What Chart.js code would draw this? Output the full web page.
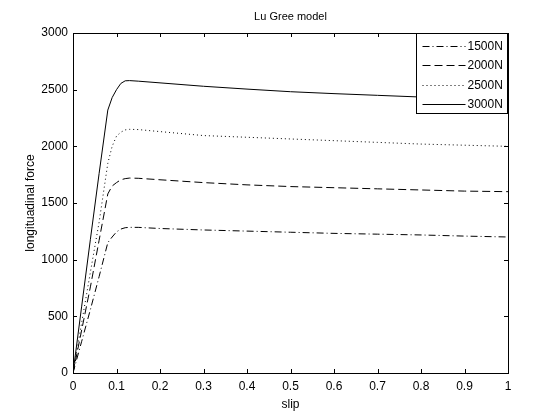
<!DOCTYPE html>
<html><head><meta charset="utf-8">
<script src="https://cdn.jsdelivr.net/npm/chart.js@4/dist/chart.umd.min.js"></script>
<style>html,body{margin:0;padding:0;background:#fff}#wrap{width:560px;height:420px}</style>
</head><body><div id="wrap"><canvas id="c" width="560" height="420"></canvas></div>
<script>
const slip = [0,0.02,0.04,0.06,0.08,0.09,0.1,0.11,0.12,0.13,0.15,0.2,0.3,0.4,0.5,0.6,0.7,0.8,0.9,1.0];
const f1500 = [0,280,560,850,1150,1200,1245,1270,1282,1285,1285,1275,1262,1252,1242,1232,1225,1218,1208,1200];
const f2000 = [0,380,760,1170,1580,1650,1680,1705,1715,1720,1718,1705,1680,1660,1645,1635,1625,1615,1605,1600];
const f2500 = [0,445,890,1330,1850,2000,2090,2125,2145,2150,2148,2130,2095,2080,2065,2050,2035,2020,2010,2000];
const f3000 = [0,590,1180,1760,2320,2430,2500,2555,2578,2580,2575,2560,2530,2505,2482,2465,2450,2435,2418,2400];
const seriesNames = ['1500N','2000N','2500N','3000N'];
const xTicks = [0,0.1,0.2,0.3,0.4,0.5,0.6,0.7,0.8,0.9,1];
const yTicks = [0,500,1000,1500,2000,2500,3000];
const titleText = 'Lu Gree model';
const xTitle = 'slip';
const yTitle = 'longituadinal force';

const FONT = '"Liberation Sans", Arial, sans-serif';
const dashes = [[7,3,1,3],[8,4],[1,3],[]];
const all = [f1500,f2000,f2500,f3000];
const datasets = all.map((arr,i)=>({
  label: seriesNames[i],
  data: slip.map((s,j)=>({x:s,y:arr[j]})),
  borderColor:'#000', borderWidth:1, borderDash:dashes[i],
  pointRadius:0, tension:0, fill:false
}));

const framePlugin = {
  id:'frame',
  afterDraw(chart){
    const ctx = chart.ctx, a = chart.chartArea;
    const xs = chart.scales.x, ys = chart.scales.y;
    ctx.save();
    ctx.strokeStyle='#000'; ctx.lineWidth=1;
    ctx.strokeRect(Math.round(a.left)+0.5, Math.round(a.top)+0.5, Math.round(a.right-a.left), Math.round(a.bottom-a.top));
    ctx.beginPath();
    const tl = 4;
    xTicks.forEach(v=>{
      const px = Math.round(xs.getPixelForValue(v))+0.5;
      ctx.moveTo(px,a.bottom); ctx.lineTo(px,a.bottom-tl);
      ctx.moveTo(px,a.top); ctx.lineTo(px,a.top+tl);
    });
    yTicks.forEach(v=>{
      const py = Math.round(ys.getPixelForValue(v))+0.5;
      ctx.moveTo(a.left,py); ctx.lineTo(a.left+tl,py);
      ctx.moveTo(a.right,py); ctx.lineTo(a.right-tl,py);
    });
    ctx.stroke();
    // title
    ctx.fillStyle='#000'; ctx.font='11px '+FONT; ctx.textAlign='center'; ctx.textBaseline='middle';
    ctx.fillText(titleText,(a.left+a.right)/2,17);
    // legend
    const bw=91, bh=80, bx=Math.round(a.right)-92+0.5, by=Math.round(a.top)+0.5;
    ctx.fillStyle='#fff'; ctx.fillRect(bx,by,bw,bh);
    ctx.strokeRect(bx,by,bw,bh);
    ctx.font='12px '+FONT; ctx.textAlign='left';
    chart.data.datasets.forEach((d,i)=>{
      const y = Math.round(by+12.5+i*19.4);
      ctx.save(); ctx.setLineDash(d.borderDash); ctx.beginPath();
      ctx.moveTo(bx+6,y+0.5); ctx.lineTo(bx+49,y+0.5); ctx.stroke(); ctx.restore();
      ctx.fillStyle='#000'; ctx.fillText(d.label,bx+51,y+1);
    });
    ctx.restore();
  }
};

new Chart(document.getElementById('c'),{
  type:'line',
  data:{datasets},
  options:{
    responsive:false, animation:false, devicePixelRatio:1,
    layout:{padding:{left:0,right:52,top:33,bottom:0}},
    plugins:{legend:{display:false},title:{display:false},tooltip:{enabled:false}},
    scales:{
      x:{type:'linear',min:0,max:1,
        afterBuildTicks(s){s.ticks=xTicks.map(v=>({value:v}));},
        afterFit(s){s.height=47;},
        grid:{display:false,drawTicks:false},border:{display:false},
        ticks:{color:'#000',font:{family:FONT,size:12},padding:6,maxRotation:0,autoSkip:false,callback:v=>String(v)},
        title:{display:true,text:xTitle,color:'#000',font:{family:FONT,size:12},padding:{top:2,bottom:8}}
      },
      y:{type:'linear',min:0,max:3000,
        afterBuildTicks(s){s.ticks=yTicks.map(v=>({value:v}));},
        afterFit(s){s.width=73;},
        grid:{display:false,drawTicks:false},border:{display:false},
        ticks:{color:'#000',font:{family:FONT,size:12},padding:5,autoSkip:false,callback:v=>String(v)},
        title:{display:true,text:yTitle,color:'#000',font:{family:FONT,size:12},padding:{top:23,bottom:4}}
      }
    }
  },
  plugins:[framePlugin]
});
</script></body></html>
